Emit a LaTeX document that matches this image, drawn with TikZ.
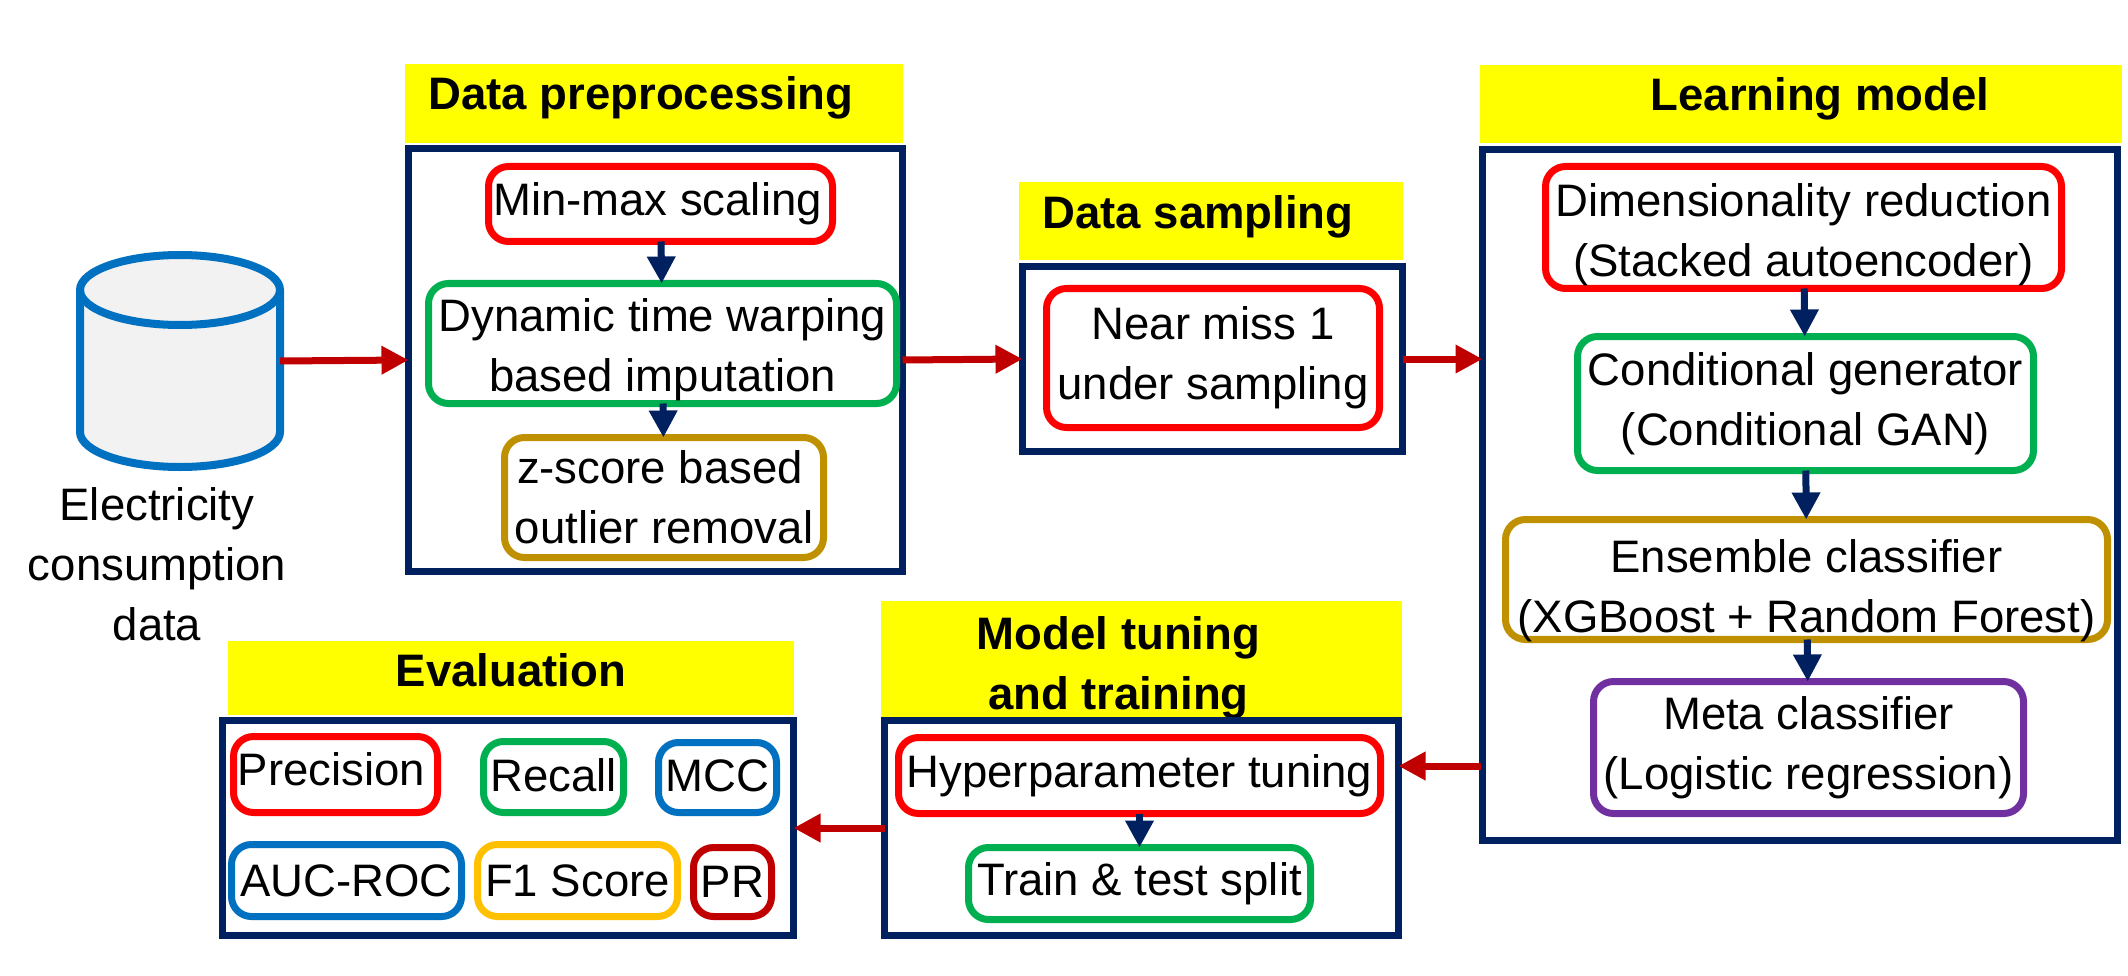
\documentclass[tikz,border=0pt]{standalone}
\usepackage{fontspec}
\setmainfont{Liberation Sans}
\usetikzlibrary{arrows.meta}
\definecolor{navy}{HTML}{002060}
\definecolor{darkred}{HTML}{C00000}
\definecolor{pureRed}{HTML}{FF0000}
\definecolor{leaf}{HTML}{00B050}
\definecolor{gold}{HTML}{BF9000}
\definecolor{plum}{HTML}{7030A0}
\definecolor{sky}{HTML}{0070C0}
\definecolor{amber}{HTML}{FFC000}
\definecolor{headfill}{HTML}{FFFF00}
\newcommand{\moved}[3]{\raisebox{#2}[\height][\depth]{\hspace*{\dimexpr 2\dimexpr#1\relax\relax}\begin{tabular}{@{}c@{}}#3\end{tabular}}}
\tikzset{
  every node/.style={font=\fontsize{12.95}{17.07}\selectfont, outer sep=0pt, inner sep=0pt, align=center},
  head/.style={fill=headfill, font=\fontsize{12.95}{17.07}\selectfont\bfseries},
  frame/.style={draw=navy, line width=0.07cm, fill=white},
  rbox/.style={draw=#1, line width=0.07cm, rounded corners=0.2cm, fill=white},
  drum/.style={draw=sky, line width=0.08cm},
  flow/.style={draw=darkred, line width=0.07cm, -{Triangle[length=0.27cm,width=0.27cm]}},
  step down/.style={draw=navy, line width=0.07cm, -{Triangle[length=0.27cm,width=0.27cm]}},
}
\begin{document}
\begin{tikzpicture}
        \useasboundingbox (0,0) rectangle (21.28,9.75);

        % source
        \draw[drum, fill=black!5] (0.80,6.85) arc[start angle=180,end angle=0,x radius=1,y radius=0.35] -- (2.80,5.43) arc[start angle=0,end angle=-180,x radius=1,y radius=0.35] -- cycle;
        \draw[drum] (0.80,6.85) arc[start angle=180,end angle=360,x radius=1,y radius=0.35];
        \coordinate (source) at (2.80,6.14);
        \node (sourcetxt) at (1.57,4.11){Electricity\\consumption\\data};

        % preprocessing
        \node[head, minimum width=4.98cm, minimum height=0.785cm] (prephead) at (6.54,8.715){\moved{-0.13cm}{0.055cm}{Data preprocessing}};
        \node[frame, minimum width=4.94cm, minimum height=4.23cm] (prepbox) at (6.555,6.15){};
        \node[rbox=pureRed, minimum width=3.44cm, minimum height=0.75cm] (minmax) at (6.605,7.71){\moved{-0.03cm}{0cm}{Min-max scaling}};
        \node[rbox=leaf, minimum width=4.68cm, minimum height=1.20cm] (dtw) at (6.625,6.315){\moved{0cm}{-0.06cm}{Dynamic time warping\\based imputation}};
        \node[rbox=gold, minimum width=3.19cm, minimum height=1.20cm] (zscore) at (6.64,4.775){z-score based\hspace*{0.08cm}\\outlier removal};

        % sampling
        \node[head, minimum width=3.84cm, minimum height=0.78cm] (samphead) at (12.11,7.54){\moved{-0.13cm}{0.04cm}{Data sampling}};
        \node[frame, minimum width=3.80cm, minimum height=1.85cm] (sampbox) at (12.125,6.16){};
        \node[rbox=pureRed, minimum width=3.33cm, minimum height=1.39cm] (nearmiss) at (12.13,6.17){Near miss 1\\under sampling};

        % learning model
        \node[head, minimum width=6.42cm, minimum height=0.78cm] (learnhead) at (18.01,8.71){\moved{0.19cm}{0.055cm}{Learning model}};
        \node[frame, minimum width=6.35cm, minimum height=6.91cm] (learnbox) at (18.00,4.80){};
        \node[rbox=pureRed, minimum width=5.16cm, minimum height=1.22cm] (reduce) at (18.035,7.475){\moved{0cm}{-0.07cm}{Dimensionality reduction\\(Stacked autoencoder)}};
        \node[rbox=leaf, minimum width=4.56cm, minimum height=1.34cm] (cgen) at (18.055,5.715){Conditional generator\\(Conditional GAN)};
        \node[rbox=gold, minimum width=6.02cm, minimum height=1.14cm] (ensemble) at (18.065,3.955){\moved{0cm}{-0.11cm}{Ensemble classifier\\(XGBoost + Random Forest)}};
        \node[rbox=plum, minimum width=4.30cm, minimum height=1.32cm] (meta) at (18.085,2.275){Meta classifier\\(Logistic regression)};

        % tuning
        \node[head, minimum width=5.21cm, minimum height=1.13cm] (tunehead) at (11.415,3.145){\moved{-0.23cm}{-0.07cm}{Model tuning\\and training}};
        \node[frame, minimum width=5.14cm, minimum height=2.15cm] (tunebox) at (11.415,1.47){};
        \node[rbox=pureRed, minimum width=4.82cm, minimum height=0.76cm] (hyper) at (11.395,1.995){Hyperparameter tuning};
        \node[rbox=leaf, minimum width=3.42cm, minimum height=0.72cm] (split) at (11.395,0.915){Train \& test split};

        % evaluation
        \node[head, minimum width=5.66cm, minimum height=0.74cm] (evalhead) at (5.11,2.97){\moved{0cm}{0.035cm}{Evaluation}};
        \node[frame, minimum width=5.71cm, minimum height=2.15cm] (evalbox) at (5.08,1.47){};
        \node[rbox=pureRed, minimum width=2.04cm, minimum height=0.76cm] (precision) at (3.355,2.005){\moved{-0.04cm}{0.01cm}{Precision}};
        \node[rbox=leaf, minimum width=1.40cm, minimum height=0.71cm] (recall) at (5.535,1.98){\moved{0cm}{-0.02cm}{Recall}};
        \node[rbox=sky, minimum width=1.18cm, minimum height=0.70cm] (mcc) at (7.175,1.975){\moved{0cm}{-0.02cm}{MCC}};
        \node[rbox=sky, minimum width=2.30cm, minimum height=0.72cm] (aucroc) at (3.465,0.945){AUC-ROC};
        \node[rbox=amber, minimum width=2.00cm, minimum height=0.72cm] (fscore) at (5.775,0.945){F1 Score};
        \node[rbox=darkred, minimum width=0.78cm, minimum height=0.69cm] (prc) at (7.325,0.93){PR};

        % connectors
        \coordinate (learnout) at (14.81,2.09);
        \draw[flow] (source) -- (prepbox.west);
        \draw[flow] (prepbox.east) -- (sampbox.west);
        \draw[flow] (sampbox.east) -- (sampbox.east -| learnbox.west);
        \draw[flow] (learnout) -- (learnout -| tunebox.east);
        \draw[flow] (tunebox.west) -- (evalbox.east);

        \draw[step down] (minmax) -- (dtw);
        \draw[step down] (dtw) -- (zscore);
        \draw[step down] (reduce) -- (cgen);
        \draw[step down] (cgen) -- (ensemble);
        \draw[step down] (ensemble) -- (meta);
        \draw[step down] (hyper) -- (split);
\end{tikzpicture}
\end{document}
